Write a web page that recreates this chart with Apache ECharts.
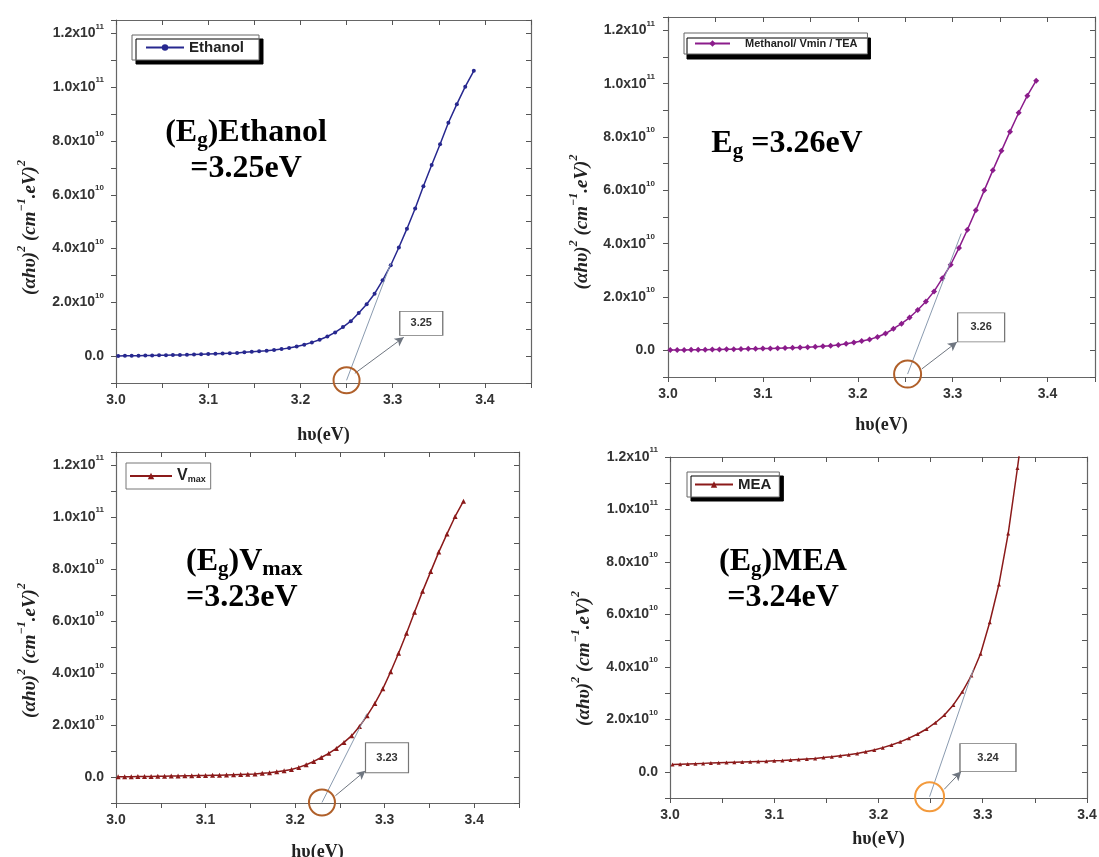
<!DOCTYPE html>
<html>
<head>
<meta charset="utf-8">
<script src="https://cdn.jsdelivr.net/npm/echarts@6/dist/echarts.min.js"></script>
<style>
html, body { margin: 0; padding: 0; background: #fff; }
#chart { width: 1099px; height: 857px; }
</style>
</head>
<body>
<div id="chart"></div>
<script>
// photon energy hv (eV), one point per nm from 413 nm down to 366 nm
var hv = [3.0024, 3.0097, 3.0170, 3.0244, 3.0318, 3.0392, 3.0467, 3.0542, 3.0617, 3.0693,
          3.0769, 3.0846, 3.0923, 3.1000, 3.1078, 3.1156, 3.1234, 3.1313, 3.1392, 3.1472,
          3.1552, 3.1633, 3.1714, 3.1795, 3.1877, 3.1959, 3.2041, 3.2124, 3.2208, 3.2292,
          3.2376, 3.2461, 3.2546, 3.2632, 3.2718, 3.2804, 3.2891, 3.2979, 3.3067, 3.3155,
          3.3244, 3.3333, 3.3423, 3.3514, 3.3604, 3.3696, 3.3787, 3.3880];

// (alpha h v)^2 in units of 1e10 (cm^-1.eV)^2
var ethanol = [0.005, 0.01, 0.01, 0.015, 0.02, 0.025, 0.03, 0.035, 0.04, 0.045,
               0.05, 0.06, 0.07, 0.08, 0.09, 0.10, 0.11, 0.12, 0.14, 0.16,
               0.18, 0.20, 0.23, 0.26, 0.30, 0.36, 0.42, 0.51, 0.61, 0.73,
               0.88, 1.08, 1.30, 1.60, 1.93, 2.32, 2.82, 3.38, 4.04, 4.74,
               5.49, 6.32, 7.11, 7.88, 8.68, 9.37, 10.02, 10.61];
var methanol = [0.01, 0.01, 0.015, 0.02, 0.02, 0.025, 0.03, 0.035, 0.04, 0.045,
                0.05, 0.055, 0.06, 0.065, 0.07, 0.08, 0.09, 0.10, 0.11, 0.12,
                0.13, 0.15, 0.17, 0.20, 0.25, 0.29, 0.35, 0.41, 0.50, 0.63,
                0.81, 1.00, 1.23, 1.51, 1.83, 2.21, 2.70, 3.21, 3.84, 4.52,
                5.25, 6.00, 6.75, 7.48, 8.20, 8.91, 9.55, 10.11];
var vmax = [0.005, 0.01, 0.01, 0.015, 0.02, 0.02, 0.025, 0.03, 0.035, 0.04,
            0.045, 0.05, 0.055, 0.06, 0.065, 0.07, 0.08, 0.09, 0.10, 0.11,
            0.12, 0.14, 0.16, 0.20, 0.24, 0.29, 0.37, 0.47, 0.60, 0.75,
            0.91, 1.10, 1.33, 1.59, 1.94, 2.36, 2.83, 3.39, 4.05, 4.76,
            5.53, 6.34, 7.14, 7.90, 8.65, 9.35, 10.02, 10.61];
var mea = [0.28, 0.29, 0.30, 0.31, 0.32, 0.33, 0.34, 0.35, 0.36, 0.37,
           0.38, 0.39, 0.40, 0.42, 0.43, 0.45, 0.47, 0.49, 0.51, 0.54,
           0.57, 0.61, 0.65, 0.70, 0.76, 0.83, 0.92, 1.02, 1.14, 1.28,
           1.44, 1.63, 1.87, 2.16, 2.55, 3.05, 3.67, 4.50, 5.70, 7.14,
           9.08, 11.58, 14.3];

var seriesNames = ['Ethanol', 'Methanol/ Vmin / TEA', 'Vmax', 'MEA'];
var gapValues = ['3.25', '3.26', '3.23', '3.24'];

var SANS = 'Liberation Sans, Arial, sans-serif';
var SERIF = 'Liberation Serif, Times New Roman, serif';

function yFmt(v) {
    var k = Math.round(v / 1e10);
    if (k < 0 || k % 2 !== 0) return '';
    if (k === 0) return '{n|0.0}';
    if (k >= 10) return '{n|' + (k / 10).toFixed(1) + 'x10}{s|11}';
    return '{n|' + k.toFixed(1) + 'x10}{s|10}';
}
function xFmt(v) {
    var k = Math.round(v * 100);
    return k % 10 !== 0 ? '' : (k / 100).toFixed(1);
}
var tickRich = {
    n: {fontFamily: SANS, fontWeight: 'bold', fontSize: 14, color: '#333', lineHeight: 22},
    s: {fontFamily: SANS, fontWeight: 'bold', fontSize: 8, color: '#333', verticalAlign: 'top', lineHeight: 8}
};
var nameRich = {
    i: {fontFamily: SERIF, fontStyle: 'italic', fontWeight: 'bold', fontSize: 19, color: '#222', lineHeight: 28},
    s: {fontFamily: SERIF, fontStyle: 'italic', fontWeight: 'bold', fontSize: 12, color: '#222', verticalAlign: 'top', lineHeight: 12}
};
var yName = '{i|(\u03b1h\u03c5)}{s|2}{i| (cm}{s|\u22121}{i|.eV)}{s|2}';

function toPairs(ys) {
    var out = [];
    for (var i = 0; i < ys.length; i++) out.push([hv[i], ys[i] * 1e10]);
    return out;
}

// layout of the four panels
var L = [
    {left: 116, top: 20, width: 415, height: 363, xMax: 3.45, yMax: 1.25e11, nameGapX: 43, yShift: 52, lm: 12},
    {left: 668, top: 17, width: 427, height: 360, xMax: 3.45, yMax: 1.25e11, nameGapX: 39, yShift: 50, lm: 13},
    {left: 116, top: 452, width: 403, height: 351, xMax: 3.45, yMax: 1.25e11, nameGapX: 40, yShift: 46, lm: 12},
    {left: 670, top: 457, width: 417, height: 341, xMax: 3.4, yMax: 1.2e11, nameGapX: 32, yShift: 62, lm: 12}
];
var look = [
    {data: ethanol, color: '#27288f', symbol: 'circle', size: 4},
    {data: methanol, color: '#8b1c8b', symbol: 'diamond', size: 6},
    {data: vmax, color: '#8b1a1a', symbol: 'triangle', size: 5},
    {data: mea, color: '#8b1a1a', symbol: 'triangle', size: 4}
];
var notes = [
    {circle: [3.25, -0.9e10], cs: 26, cc: '#b0602a', tan: [3.298, 3.45e10], arrA: [3.259, -0.64e10], arrB: [3.312, 0.70e10], box: [3.331, 1.22e10], bs: [43, 24]},
    {circle: [3.2525, -0.89e10], cs: 27, cc: '#b0602a', tan: [3.309, 4.38e10], arrA: [3.2674, -0.70e10], arrB: [3.3045, 0.31e10], box: [3.330, 0.86e10], bs: [47, 29]},
    {circle: [3.230, -0.98e10], cs: 26, cc: '#b0602a', tan: [3.280, 2.43e10], arrA: [3.245, -0.72e10], arrB: [3.2785, 0.24e10], box: [3.3026, 0.74e10], bs: [43, 30]},
    {circle: [3.249, -0.95e10], cs: 29, cc: '#f39a3c', tan: [3.291, 3.9e10], arrA: [3.263, -0.67e10], arrB: [3.2793, 0.01e10], box: [3.305, 0.54e10], bs: [56, 28]}
];

var grids = [], xAxes = [], yAxes = [], series = [];
var axisLine = {show: true, onZero: false, lineStyle: {color: '#666', width: 1.2}};
var tick = {show: true, length: 5, lineStyle: {color: '#555', width: 1}};
var tickIn = {show: true, inside: true, length: 5, lineStyle: {color: '#555', width: 1}};

L.forEach(function (g, i) {
    grids.push({left: g.left, top: g.top, width: g.width, height: g.height, outerBoundsMode: 'none', containLabel: false});
    xAxes.push({
        type: 'value', gridIndex: i, position: 'bottom', min: 3.0, max: g.xMax, interval: 0.05,
        axisLine: axisLine, axisTick: tick, splitLine: {show: false},
        axisLabel: {formatter: xFmt, margin: 10, fontFamily: SANS, fontWeight: 'bold', fontSize: 14, color: '#333', showMaxLabel: true},
        name: 'h\u03c5(eV)', nameLocation: 'middle', nameGap: g.nameGapX,
        nameTextStyle: {fontFamily: SERIF, fontWeight: 'bold', fontSize: 18, color: '#222'}
    });
    xAxes.push({
        type: 'value', gridIndex: i, position: 'top', min: 3.0, max: g.xMax, interval: 0.05,
        axisLine: axisLine, axisTick: tickIn, axisLabel: {show: false}, splitLine: {show: false}
    });
    yAxes.push({
        type: 'value', gridIndex: i, position: 'left', min: -1e10, max: g.yMax, interval: 1e10,
        axisLine: axisLine, axisTick: tick, splitLine: {show: false},
        axisLabel: {formatter: yFmt, rich: tickRich, margin: g.lm},
        name: yName, nameLocation: 'middle', nameGap: 72,
        nameTextStyle: {rich: nameRich, padding: [0, g.yShift, 0, 0]}
    });
    yAxes.push({
        type: 'value', gridIndex: i, position: 'right', min: -1e10, max: g.yMax, interval: 1e10,
        axisLine: axisLine, axisTick: tickIn, axisLabel: {show: false}, splitLine: {show: false}
    });

    var s = look[i];
    series.push({
        name: seriesNames[i], type: 'line', xAxisIndex: 2 * i, yAxisIndex: 2 * i,
        data: toPairs(s.data), symbol: s.symbol, symbolSize: s.size, clip: true,
        lineStyle: {color: s.color, width: 1.5}, itemStyle: {color: s.color}
    });

    var n = notes[i];
    series.push({
        name: 'note' + i, type: 'line', xAxisIndex: 2 * i, yAxisIndex: 2 * i, data: [], clip: false,
        markLine: {
            silent: true, animation: false, label: {show: false},
            data: [
                [{coord: n.circle, symbol: 'none', lineStyle: {color: '#8a9bb0', width: 1, type: 'solid'}}, {coord: n.tan, symbol: 'none'}],
                [{coord: n.arrA, symbol: 'none', lineStyle: {color: '#6f7680', width: 1, type: 'solid'}}, {coord: n.arrB, symbol: 'arrow', symbolSize: [7, 9]}]
            ]
        },
        markPoint: {
            silent: true, animation: false,
            data: [
                {coord: n.circle, symbol: 'circle', symbolSize: n.cs, label: {show: false},
                 itemStyle: {color: 'rgba(0,0,0,0)', borderColor: n.cc, borderWidth: 2}},
                {coord: n.box, symbol: 'rect', symbolSize: n.bs,
                 itemStyle: {color: '#fff', borderColor: '#777', borderWidth: 1},
                 label: {show: true, position: 'inside', formatter: gapValues[i], fontFamily: SANS, fontWeight: 'bold', fontSize: 11, color: '#333'}}
            ]
        }
    });
});

var legendBase = {
    orient: 'horizontal', backgroundColor: '#fff', borderColor: '#666', borderWidth: 1,
    shadowColor: '#000', shadowBlur: 0, itemHeight: 8, itemGap: 0,
    textStyle: {fontFamily: SANS, fontWeight: 'bold', fontSize: 15, color: '#222'}
};
function mk(o) { return Object.assign({}, legendBase, o); }
var legends = [
    mk({data: [seriesNames[0]], left: 132, top: 35, padding: [5, 15, 5, 13], itemWidth: 38, shadowOffsetX: 4, shadowOffsetY: 4}),
    mk({data: [seriesNames[1]], left: 684, top: 33, padding: [5, 10, 5, 10], itemWidth: 35, shadowOffsetX: 3, shadowOffsetY: 5,
        textStyle: {fontFamily: SANS, fontWeight: 'bold', fontSize: 11, color: '#222', padding: [0, 0, 0, 10]}}),
    mk({data: [seriesNames[2]], left: 126, top: 463, padding: [5, 5, 5, 3], itemWidth: 42, shadowColor: 'rgba(0,0,0,0)', borderColor: '#777',
        formatter: function () { return '{v|V}{s|max}'; },
        textStyle: {rich: {
            v: {fontFamily: SANS, fontWeight: 'bold', fontSize: 16, color: '#222'},
            s: {fontFamily: SANS, fontWeight: 'bold', fontSize: 9, color: '#222', verticalAlign: 'bottom', lineHeight: 9}
        }}}),
    mk({data: [seriesNames[3]], left: 687, top: 472, padding: [5, 8, 5, 7], itemWidth: 38, shadowOffsetX: 4, shadowOffsetY: 4})
];

var bigRich = {
    a: {fontFamily: SERIF, fontWeight: 'bold', fontSize: 32, color: '#000', lineHeight: 36},
    b: {fontFamily: SERIF, fontWeight: 'bold', fontSize: 21, color: '#000', verticalAlign: 'bottom', lineHeight: 21},
    m: {fontFamily: SERIF, fontWeight: 'bold', fontSize: 22, color: '#000', verticalAlign: 'bottom', lineHeight: 22}
};
function bigText(x, y, txt, align) {
    return {type: 'text', x: x, y: y, z: 10, silent: true,
            style: {text: txt, rich: bigRich, align: align, verticalAlign: 'top'}};
}
var graphics = [
    bigText(246, 115, '{a|(E}{b|g}{a|)Ethanol}\n{a|=3.25eV}', 'center'),
    bigText(787, 126, '{a|E}{b|g}{a| =3.26eV}', 'center'),
    bigText(186, 544, '{a|(E}{b|g}{a|)V}{m|max}\n{a|=3.23eV}', 'left'),
    bigText(783, 544, '{a|(E}{b|g}{a|)MEA}\n{a|=3.24eV}', 'center')
];

var myChart = echarts.init(document.getElementById('chart'));
var option = {
    animation: false,
    backgroundColor: '#fff',
    grid: grids,
    xAxis: xAxes,
    yAxis: yAxes,
    legend: legends,
    graphic: graphics,
    series: series
};
myChart.setOption(option);
</script>
</body>
</html>
